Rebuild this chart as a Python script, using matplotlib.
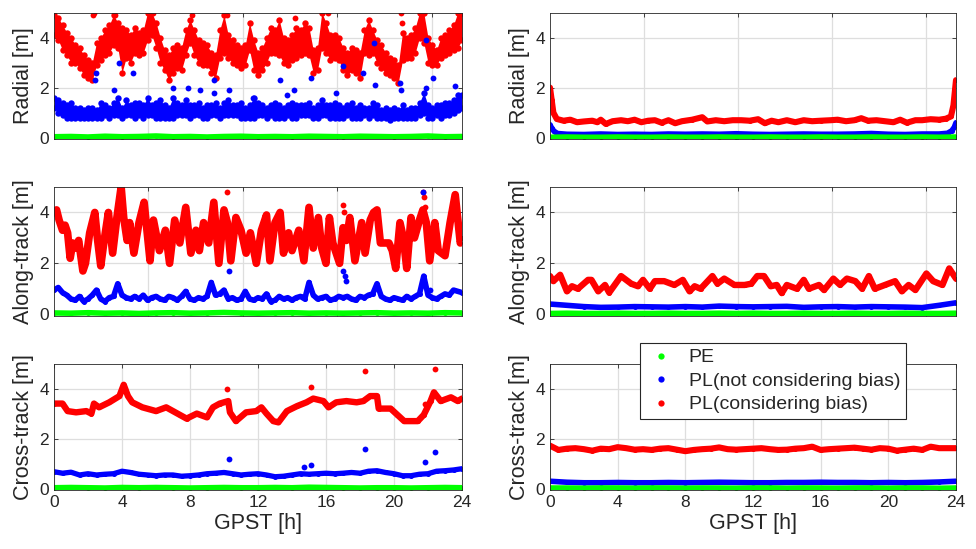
import numpy as np
import matplotlib.pyplot as plt
from matplotlib.lines import Line2D

plt.rcParams['font.family'] = ['Liberation Sans', 'DejaVu Sans']
plt.rcParams['text.color'] = '#262626'

RED, BLUE, GREEN = '#ff0000', '#0000ff', '#00ff00'

# ---------------- left column (GPST, hours) ----------------
# Radial, PL considering bias: lower / upper edge of the dot cloud, 0.25 h steps
rad_red_lo = [4.1, 3.9, 3.5, 3.3, 3.0, 3.0, 2.8, 2.5, 2.4, 2.3, 2.9, 3.1,
              3.3, 3.4, 3.7, 3.6, 2.6, 3.2, 3.0, 3.4, 3.3, 3.4, 3.9, 4.1,
              3.6, 3.0, 2.7, 2.3, 2.6, 2.8, 2.7, 3.3, 3.8, 3.3, 3.0, 2.9,
              2.9, 2.6, 2.4, 3.2, 3.4, 3.2, 3.0, 2.9, 2.8, 2.9, 3.5, 2.7,
              2.5, 2.7, 3.0, 3.4, 3.4, 3.3, 3.0, 2.9, 3.1, 3.2, 3.3, 3.4,
              3.3, 2.6, 2.7, 3.6, 3.4, 3.1, 3.2, 3.1, 2.7, 2.5, 2.7, 2.6,
              2.4, 3.4, 3.3, 3.4, 3.0, 2.8, 2.6, 2.5, 2.4, 2.2, 3.1, 3.2,
              3.2, 3.4, 4.0, 3.8, 3.0, 2.9, 2.9, 3.2, 3.3, 3.4, 3.5, 3.6, 3.9]
rad_red_hi = [4.9, 4.8, 4.5, 4.2, 4.0, 3.7, 3.6, 3.3, 3.1, 3.0, 3.8, 4.0,
              4.3, 4.5, 4.9, 4.6, 4.4, 4.3, 4.1, 4.4, 4.2, 4.3, 5.0, 5.0,
              4.6, 4.0, 3.5, 3.3, 3.6, 3.7, 3.6, 4.3, 4.7, 4.3, 3.9, 3.8,
              3.7, 3.4, 3.3, 4.3, 4.9, 4.1, 3.9, 3.7, 3.6, 3.7, 4.6, 3.9,
              3.4, 3.6, 4.0, 4.4, 4.3, 4.7, 4.0, 3.9, 4.1, 4.4, 4.3, 4.6,
              4.4, 3.5, 3.6, 5.0, 4.6, 4.1, 4.1, 4.0, 3.6, 3.4, 3.6, 3.5,
              3.4, 4.3, 4.7, 4.3, 3.9, 3.7, 3.4, 3.2, 3.1, 2.9, 4.2, 4.0,
              4.1, 4.4, 5.0, 5.0, 4.0, 3.7, 3.5, 4.0, 4.1, 4.3, 4.5, 5.0, 5.0]
rad_red_out_t = [2.3, 2.35, 3.6, 5.8, 8.1, 10.2, 14.2, 16.1, 20.4, 20.45, 21.7, 23.9]
rad_red_out_v = [4.9, 5.0, 4.9, 5.0, 4.9, 4.9, 4.8, 5.0, 5.0, 4.6, 5.0, 5.0]
# Radial, PL not considering bias
rad_blue_lo = [1.2, 1.0, 0.9, 0.8, 0.8, 0.8, 0.8, 0.8, 0.8, 0.8, 0.8, 0.8,
               0.9, 0.8, 0.9, 0.9, 0.8, 0.9, 0.9, 0.8, 0.9, 0.8, 0.9, 0.9,
               0.8, 0.8, 0.8, 0.8, 0.8, 0.9, 0.9, 0.9, 0.8, 0.9, 0.9, 0.8,
               0.8, 0.9, 0.9, 0.8, 0.9, 0.9, 0.9, 0.9, 0.8, 0.8, 0.8, 0.8,
               0.9, 0.9, 0.8, 0.9, 0.8, 0.8, 0.8, 0.9, 0.8, 0.8, 0.9, 0.9,
               0.9, 0.8, 0.8, 0.9, 0.9, 0.8, 0.8, 0.8, 0.8, 0.9, 0.8, 0.8,
               0.8, 0.9, 0.8, 0.9, 0.8, 0.8, 0.8, 0.7, 0.8, 0.8, 0.8, 0.8,
               0.8, 0.8, 0.9, 1.0, 0.8, 0.8, 0.9, 0.8, 0.9, 0.9, 1.0, 1.1, 1.2]
rad_blue_hi = [1.6, 1.5, 1.4, 1.3, 1.4, 1.2, 1.2, 1.1, 1.2, 1.2, 1.1, 1.4,
               1.3, 1.2, 1.4, 1.6, 1.2, 1.5, 1.3, 1.4, 1.4, 1.3, 1.6, 1.3,
               1.4, 1.5, 1.3, 1.2, 1.6, 1.4, 1.3, 1.5, 1.3, 1.3, 1.4, 1.2,
               1.3, 1.3, 1.4, 1.2, 1.4, 1.5, 1.3, 1.3, 1.4, 1.2, 1.3, 1.6,
               1.4, 1.3, 1.2, 1.3, 1.4, 1.3, 1.2, 1.3, 1.4, 1.3, 1.3, 1.3,
               1.4, 1.2, 1.3, 1.5, 1.3, 1.3, 1.4, 1.3, 1.2, 1.3, 1.4, 1.2,
               1.3, 1.2, 1.2, 1.4, 1.3, 1.1, 1.2, 1.1, 1.2, 1.1, 1.3, 1.1,
               1.2, 1.2, 1.4, 1.8, 1.3, 1.2, 1.3, 1.3, 1.4, 1.4, 1.5, 1.7, 1.7]
rad_blue_out_t = [2.4, 2.45, 3.85, 4.67, 3.5, 7.0, 7.9, 8.6, 9.4, 9.4, 10.3,
                  13.3, 14.1, 15.1, 17.0, 18.2, 18.8, 18.9, 20.35, 20.4,
                  21.9, 21.9, 22.3, 23.6, 13.7, 11.7, 16.6]
rad_blue_out_v = [2.3, 2.6, 3.0, 2.6, 1.9, 2.0, 2.0, 1.9, 2.3, 1.8, 1.9,
                  2.3, 1.9, 2.4, 2.85, 2.6, 3.8, 2.1, 2.2, 1.9,
                  3.9, 2.0, 2.4, 2.05, 1.7, 1.6, 1.8]
rad_green_l = [0.04, 0.05, 0.03, 0.06, 0.04, 0.05, 0.07, 0.04, 0.05, 0.03,
               0.05, 0.06, 0.04, 0.05, 0.04, 0.06, 0.05, 0.04, 0.06, 0.05,
               0.04, 0.05, 0.07, 0.04, 0.05]

# Along-track, PL considering bias (times read at turning points)
alo_red_t = [0.0, 0.15, 0.3, 0.5, 0.65, 0.8, 0.95, 1.1, 1.3, 1.45, 1.7, 1.85,
             2.1, 2.4, 2.55, 2.75, 2.95, 3.2, 3.45, 3.7, 3.95, 4.1, 4.3, 4.45,
             4.7, 5.0, 5.3, 5.65, 5.85, 6.2, 6.55, 6.8, 7.1, 7.4, 7.75, 8.05,
             8.35, 8.55, 8.8, 9.1, 9.4, 9.7, 10.0, 10.2, 10.4, 10.7, 11.0,
             11.3, 11.55, 11.9, 12.2, 12.5, 12.7, 13.0, 13.3, 13.5, 13.8,
             14.0, 14.4, 14.7, 15.0, 15.25, 15.55, 15.75, 16.0, 16.2, 16.4,
             16.8, 17.0, 17.2, 17.4, 17.7, 18.1, 18.3, 18.6, 18.8, 19.0,
             19.2, 19.7, 19.9, 20.1, 20.35, 20.55, 20.75, 21.0, 21.2, 21.5,
             21.7, 21.9, 22.1, 22.4, 22.6, 23.0, 23.3, 23.6, 23.9, 24.0]
alo_red_v = [4.0, 4.1, 3.7, 3.3, 3.5, 3.2, 2.2, 2.8, 2.6, 2.9, 1.7, 2.0,
             3.2, 4.0, 3.0, 1.9, 2.9, 4.0, 2.4, 3.8, 5.0, 3.8, 2.9, 3.6,
             2.4, 3.6, 4.4, 2.1, 3.7, 2.5, 3.3, 2.0, 3.7, 2.8, 4.2, 2.4,
             3.3, 2.5, 3.6, 2.8, 4.4, 2.0, 4.1, 3.6, 2.1, 3.8, 3.3,
             2.4, 3.2, 2.0, 3.3, 3.9, 2.1, 3.6, 4.0, 2.4, 3.2,
             2.5, 3.3, 2.1, 4.2, 2.6, 3.8, 2.6, 2.0, 3.8, 2.8,
             2.0, 3.4, 2.9, 3.8, 2.1, 3.6, 2.4, 3.7, 4.0, 4.1,
             2.8, 2.8, 2.5, 1.8, 3.6, 3.0, 1.8, 3.8, 3.0, 3.7,
             4.1, 3.6, 2.1, 3.6, 2.5, 2.3, 3.6, 4.7, 2.8, 3.0]
alo_red_out_t = [10.2, 17.0, 17.05, 21.7, 21.75, 21.8]
alo_red_out_v = [4.8, 4.3, 4.0, 4.8, 4.6, 4.2]
alo_blue_l = [0.95, 1.05, 0.85, 0.75, 0.6, 0.55, 0.7, 0.5, 0.6, 0.75, 0.95, 0.6,
              0.5, 0.65, 0.7, 1.2, 0.75, 0.65, 0.6, 0.7, 0.6, 0.75, 0.55, 0.65,
              0.7, 0.6, 0.55, 0.7, 0.65, 0.55, 0.7, 0.9, 0.6, 0.55, 0.65, 0.6,
              0.7, 1.25, 0.75, 0.8, 0.95, 0.6, 0.65, 0.55, 0.6, 0.9, 0.6, 0.55,
              0.65, 0.6, 0.8, 0.5, 0.55, 0.7, 0.6, 0.65, 0.55, 0.65, 0.7, 0.6,
              1.25, 0.75, 0.6, 0.65, 0.7, 0.55, 0.6, 0.7, 0.65, 0.7, 0.6, 0.55,
              0.7, 0.65, 0.75, 0.8, 1.2, 0.7, 0.6, 0.55, 0.65, 0.6, 0.55, 0.7,
              0.6, 0.7, 0.8, 1.5, 0.75, 0.65, 0.6, 0.7, 0.8, 0.75, 0.95, 0.9, 0.85]
alo_blue_out_t = [10.3, 17.0, 17.1, 17.2, 21.7, 22.1]
alo_blue_out_v = [1.7, 1.7, 1.5, 1.3, 4.8, 0.95]
alo_green_l = [0.05, 0.04, 0.06, 0.04, 0.05, 0.03, 0.05, 0.06, 0.04, 0.05,
               0.07, 0.05, 0.04, 0.05, 0.06, 0.04, 0.05, 0.04, 0.05, 0.06,
               0.04, 0.05, 0.04, 0.06, 0.05]

# Cross-track
crs_red_t = [0.0, 0.5, 0.8, 1.3, 1.9, 2.2, 2.35, 2.65, 3.25, 3.85, 4.1, 4.35,
             4.6, 5.2, 6.0, 6.6, 7.4, 7.8, 8.4, 9.0, 9.35, 9.75, 10.25, 10.35,
             10.7, 11.3, 11.9, 12.2, 12.5, 12.9, 13.2, 13.7, 14.3, 14.85,
             15.25, 15.85, 16.15, 16.6, 17.2, 17.8, 18.2, 18.6, 19.0, 19.1,
             19.8, 20.2, 20.6, 21.4, 21.75, 22.15, 22.35, 22.75, 23.35,
             23.75, 24.0]
crs_red_v = [3.4, 3.4, 3.1, 3.05, 3.1, 3.0, 3.4, 3.25, 3.45, 3.7, 4.15, 3.7,
             3.45, 3.25, 3.1, 3.25, 2.95, 2.8, 3.0, 2.85, 3.25, 3.4, 3.5, 3.05,
             2.7, 3.05, 3.1, 3.25, 3.0, 2.7, 2.65, 3.1, 3.3, 3.45,
             3.6, 3.5, 3.25, 3.45, 3.5, 3.45, 3.5, 3.7, 3.7, 3.2,
             3.2, 2.95, 2.7, 2.7, 2.95, 3.5, 3.85, 3.5, 3.65,
             3.5, 3.6]
crs_red_out_t = [10.2, 15.1, 18.3, 21.8, 22.4]
crs_red_out_v = [4.0, 4.05, 4.7, 3.4, 4.8]
crs_blue_l = [0.68, 0.62, 0.66, 0.55, 0.6, 0.55, 0.58, 0.6, 0.7, 0.65,
              0.58, 0.55, 0.52, 0.55, 0.55, 0.5, 0.52, 0.55, 0.6, 0.62,
              0.65, 0.6, 0.55, 0.58, 0.6, 0.55, 0.48, 0.5, 0.55, 0.6,
              0.58, 0.6, 0.62, 0.6, 0.62, 0.65, 0.62, 0.7, 0.72, 0.65,
              0.6, 0.52, 0.52, 0.58, 0.6, 0.7, 0.72, 0.75, 0.8]
crs_blue_out_t = [10.3, 14.7, 15.1, 18.3, 21.8, 22.4]
crs_blue_out_v = [1.2, 0.85, 0.93, 1.6, 1.05, 1.45]
crs_green_l = [0.04, 0.05, 0.04, 0.03, 0.05, 0.04, 0.05, 0.04, 0.03, 0.04,
               0.05, 0.04, 0.04, 0.05, 0.04, 0.06, 0.05, 0.04, 0.03, 0.04,
               0.04, 0.03, 0.04, 0.05, 0.04]

# ---------------- right column ----------------
rad_red_r_t = [0, 0.1, 0.2, 0.4, 0.8, 1.2, 1.6, 2, 2.5, 2.8, 3.0, 3.3, 3.7,
               4.2, 4.6, 5, 5.4, 5.8, 6.2, 6.6, 7, 7.4, 7.8, 8.4, 9.0, 9.3,
               9.8, 10.3, 10.8, 11.3, 11.8, 12.3, 12.7, 13.1, 13.5, 14.0,
               14.5, 15.0, 15.5, 16.0, 16.6, 17.0, 17.5, 18.0, 18.4, 18.8,
               19.3, 19.8, 20.3, 20.7, 21.1, 21.6, 22.0, 22.5, 23.0, 23.4,
               23.7, 23.85, 24.0]
rad_red_r_v = [2.0, 1.5, 1.0, 0.75, 0.68, 0.72, 0.62, 0.65, 0.68, 0.62, 0.72,
               0.55, 0.66, 0.7, 0.66, 0.72, 0.62, 0.68, 0.70, 0.6, 0.7, 0.58,
               0.66, 0.72, 0.82, 0.65, 0.70, 0.66, 0.70, 0.70, 0.68, 0.74,
               0.58, 0.68, 0.62, 0.70, 0.62, 0.70, 0.66, 0.68, 0.70, 0.72,
               0.66, 0.70, 0.78, 0.68, 0.70, 0.66, 0.62, 0.72, 0.6, 0.70,
               0.70, 0.74, 0.72, 0.76, 0.85, 1.3, 2.3]
rad_blue_r_t = [0, 0.1, 0.25, 0.45, 1, 2, 3, 4, 5, 6, 7, 8, 9, 10, 11, 12, 13,
                14, 15, 16, 17, 18, 19, 20, 21, 22, 23, 23.5, 23.75, 23.9, 24]
rad_blue_r_v = [0.52, 0.38, 0.25, 0.17, 0.14, 0.13, 0.15, 0.13, 0.14, 0.13,
                0.15, 0.14, 0.15, 0.14, 0.16, 0.14, 0.13, 0.14, 0.15, 0.14,
                0.14, 0.15, 0.17, 0.14, 0.13, 0.15, 0.15, 0.18, 0.28, 0.42, 0.6]
rad_green_r = [0.02, 0.03, 0.02, 0.02, 0.03, 0.02, 0.02, 0.03, 0.02, 0.02,
               0.03, 0.02, 0.02, 0.03, 0.02, 0.02, 0.03, 0.02, 0.02, 0.03,
               0.02, 0.02, 0.03, 0.02, 0.03]

alo_red_r_t = [0, 0.2, 0.6, 1.0, 1.3, 1.65, 2.25, 2.45, 2.85, 3.25, 3.5, 4.2,
               4.8, 5.2, 5.5, 5.9, 6.2, 6.75, 7.35, 7.85, 8.25, 8.55, 8.9,
               9.6, 9.9, 10.3, 10.9, 11.5, 11.9, 12.25, 12.65, 13.05, 13.4,
               13.7, 14.0, 14.6, 15.0, 15.3, 15.9, 16.2, 16.75, 17.15, 17.55,
               18.05, 18.45, 18.85, 19.2, 19.8, 20.4, 20.8, 21.2, 21.6,
               22.25, 22.65, 23.2, 23.6, 24.0]
alo_red_r_v = [1.5, 1.3, 1.55, 0.9, 1.1, 1.0, 1.35, 1.35, 0.9, 1.15, 0.85, 1.5,
               1.2, 1.1, 1.35, 1.0, 1.3, 1.3, 1.15, 1.35, 0.9, 1.1, 1.0,
               1.5, 1.2, 1.4, 1.15, 1.15, 1.2, 1.5, 1.5, 1.1, 1.15,
               0.83, 1.15, 1.0, 1.35, 1.0, 1.15, 0.95, 1.4, 1.15, 1.4,
               1.3, 1.0, 1.5, 1.0, 1.15, 1.3, 0.9, 1.15, 0.95,
               1.6, 1.3, 1.15, 1.8, 1.4]
alo_blue_r = [0.4, 0.35, 0.3, 0.27, 0.28, 0.3, 0.29, 0.28, 0.3, 0.28, 0.32,
              0.3, 0.29, 0.3, 0.31, 0.27, 0.29, 0.3, 0.28, 0.3, 0.29, 0.28,
              0.26, 0.35, 0.45]
alo_green_r = [0.03, 0.04, 0.03, 0.03, 0.04, 0.03, 0.03, 0.04, 0.03, 0.03,
               0.04, 0.03, 0.04, 0.03, 0.03, 0.04, 0.03, 0.03, 0.04, 0.03,
               0.03, 0.04, 0.03, 0.03, 0.04]

crs_red_r = [1.72, 1.55, 1.6, 1.62, 1.58, 1.52, 1.6, 1.58, 1.66, 1.62, 1.56,
             1.58, 1.55, 1.6, 1.62, 1.56, 1.5, 1.55, 1.58, 1.6, 1.65, 1.58,
             1.56, 1.58, 1.6, 1.62, 1.58, 1.55, 1.56, 1.6, 1.62, 1.68, 1.55,
             1.58, 1.6, 1.62, 1.64, 1.6, 1.56, 1.62, 1.6, 1.52, 1.56, 1.6,
             1.55, 1.68, 1.62, 1.62, 1.62]
crs_blue_r = [0.3, 0.26, 0.24, 0.24, 0.25, 0.24, 0.24, 0.25, 0.24, 0.25, 0.26,
              0.25, 0.24, 0.24, 0.25, 0.25, 0.26, 0.25, 0.25, 0.24, 0.25, 0.24,
              0.25, 0.27, 0.3]
crs_green_r = [0.03, 0.03, 0.02, 0.03, 0.03, 0.02, 0.03, 0.03, 0.02, 0.03,
               0.03, 0.02, 0.03, 0.03, 0.02, 0.03, 0.03, 0.02, 0.03, 0.03,
               0.02, 0.03, 0.03, 0.02, 0.03]

ylabels = ['Radial [m]', 'Along-track [m]', 'Cross-track [m]']
legend_labels = ['PE', 'PL(not considering bias)', 'PL(considering bias)']


def grid_t(vals):
    return np.linspace(0, 24, len(vals))


def series(ax, t, v, color, lw=3.0):
    ax.plot(t, v, '-', color=color, lw=lw, marker='o', ms=3.6, mew=0,
            solid_capstyle='round', solid_joinstyle='round')


def cloud(ax, lo, hi, color):
    # spread of the epoch cloud at each time step, with rough dotted edges
    t = grid_t(lo)
    ax.fill_between(t, lo, hi, color=color, lw=0)
    ax.plot(t, lo, 'o', color=color, ms=4.6, mew=0)
    ax.plot(t, hi, 'o', color=color, ms=4.6, mew=0)


def dots(ax, t, v, color):
    ax.plot(t, v, 'o', color=color, ms=4.2, mew=0, ls='none')


fig = plt.figure(figsize=(9.76, 5.49), dpi=100)
W, H = 976, 549
rows = [(12.5, 139), (187, 315.5), (363.5, 490)]
cols = [(54, 462), (550, 956)]
axes = {}
for r, (ytop, ybot) in enumerate(rows):
    for c, (xl, xr) in enumerate(cols):
        axes[(r, c)] = fig.add_axes([xl / W, 1 - ybot / H, (xr - xl) / W, (ybot - ytop) / H])

# left column
a = axes[(0, 0)]
cloud(a, rad_red_lo, rad_red_hi, RED)
dots(a, rad_red_out_t, rad_red_out_v, RED)
cloud(a, rad_blue_lo, rad_blue_hi, BLUE)
dots(a, rad_blue_out_t, rad_blue_out_v, BLUE)
series(a, grid_t(rad_green_l), rad_green_l, GREEN, lw=4)

a = axes[(1, 0)]
series(a, alo_red_t, alo_red_v, RED, lw=5.5)
dots(a, alo_red_out_t, alo_red_out_v, RED)
series(a, grid_t(alo_blue_l), alo_blue_l, BLUE, lw=4)
dots(a, alo_blue_out_t, alo_blue_out_v, BLUE)
series(a, grid_t(alo_green_l), alo_green_l, GREEN, lw=4)

a = axes[(2, 0)]
series(a, crs_red_t, crs_red_v, RED, lw=4.6)
dots(a, crs_red_out_t, crs_red_out_v, RED)
series(a, grid_t(crs_blue_l), crs_blue_l, BLUE, lw=3.8)
dots(a, crs_blue_out_t, crs_blue_out_v, BLUE)
series(a, grid_t(crs_green_l), crs_green_l, GREEN, lw=4)

# right column
a = axes[(0, 1)]
series(a, rad_red_r_t, rad_red_r_v, RED, lw=4.4)
series(a, rad_blue_r_t, rad_blue_r_v, BLUE, lw=4)
series(a, grid_t(rad_green_r), rad_green_r, GREEN, lw=4)

a = axes[(1, 1)]
series(a, alo_red_r_t, alo_red_r_v, RED, lw=4.6)
series(a, grid_t(alo_blue_r), alo_blue_r, BLUE, lw=4)
series(a, grid_t(alo_green_r), alo_green_r, GREEN, lw=4)

a = axes[(2, 1)]
series(a, grid_t(crs_red_r), crs_red_r, RED, lw=4.4)
series(a, grid_t(crs_blue_r), crs_blue_r, BLUE, lw=4)
series(a, grid_t(crs_green_r), crs_green_r, GREEN, lw=4)

# MATLAB default seconds ticks (2e4 s steps) on the upper panels
sec_ticks = [20000 / 3600, 40000 / 3600, 60000 / 3600, 80000 / 3600]

for (r, c), ax in axes.items():
    ax.set_xlim(0, 24)
    ax.set_ylim(-0.05, 5)
    ax.set_yticks([0, 2, 4])
    ax.grid(True, color='#dedede', lw=0.9)
    ax.set_axisbelow(True)
    ax.tick_params(direction='in', length=3, top=True, right=True,
                   labelsize=12.5, colors='#262626', width=0.6)
    for s in ax.spines.values():
        s.set_color('#262626')
        s.set_linewidth(0.6)
    ax.set_ylabel(ylabels[r], fontsize=15.5, color='#262626', labelpad=4)
    if r < 2:
        ax.set_xticks(sec_ticks)
        ax.set_xticklabels([])
    else:
        ax.set_xticks([0, 4, 8, 12, 16, 20, 24])
        ax.set_xlabel('GPST [h]', fontsize=15.5, color='#262626', labelpad=2)

handles = [Line2D([], [], ls='none', marker='o', ms=4.5, mew=0, color=col)
           for col in (GREEN, BLUE, RED)]
leg = fig.legend(handles, legend_labels, loc='upper left',
                 bbox_to_anchor=(640 / W, 1 - 343 / H), fontsize=14,
                 frameon=True, fancybox=False, framealpha=1,
                 edgecolor='#262626', handlelength=1.6, handletextpad=0.6,
                 labelspacing=0.3, borderpad=0.3, borderaxespad=0)
leg.get_frame().set_linewidth(0.8)
leg.set_zorder(10)

fig.savefig('out.png', dpi=100)
